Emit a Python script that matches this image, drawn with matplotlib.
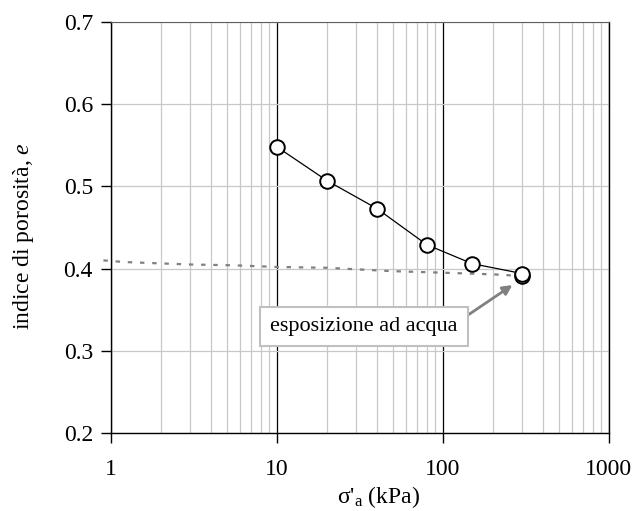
import matplotlib
matplotlib.use("Agg")
import matplotlib.pyplot as plt
from matplotlib.ticker import LogLocator, FixedLocator, NullFormatter

plt.rcParams['font.family'] = ['Liberation Serif', 'DejaVu Serif']
plt.rcParams['mathtext.fontset'] = 'custom'
plt.rcParams['mathtext.rm'] = 'Liberation Serif'
plt.rcParams['mathtext.it'] = 'Liberation Serif:italic'

# curva di carico (edometro)
sigma_load = [10, 20, 40, 80, 150, 300]
e_load = [0.548, 0.507, 0.473, 0.429, 0.406, 0.394]

# curva dopo esposizione ad acqua (tratteggiata)
sigma_wet = [0.9, 1.2, 3, 5.5, 10, 20, 48, 100, 200, 300]
e_wet = [0.410, 0.408, 0.405, 0.404, 0.402, 0.401, 0.397, 0.395, 0.393, 0.391]

x_ticks = [1, 10, 100, 1000]
x_tick_labels = ['1', '10', '100', '1000']
y_ticks = [0.2, 0.3, 0.4, 0.5, 0.6, 0.7]

fig = plt.figure(figsize=(6.35, 5.11), dpi=100)
ax = fig.add_axes([0.1748, 0.1526, 0.7842, 0.8044])

ax.set_xscale('log')
ax.set_xlim(1, 1000)
ax.set_ylim(0.2, 0.7)

# griglia
ax.xaxis.set_minor_locator(LogLocator(base=10, subs=range(2, 10)))
ax.xaxis.set_minor_formatter(NullFormatter())
ax.grid(True, which='minor', axis='x', color='#c8c8c8', lw=0.9)
ax.grid(True, which='major', axis='x', color='black', lw=0.9)
ax.grid(True, which='major', axis='y', color='#c8c8c8', lw=0.9)
ax.set_axisbelow(True)

ax.plot(sigma_wet, e_wet, color='#808080', lw=1.6, ls=(0, (2, 3.5)),
        zorder=3, clip_on=False)
ax.plot(sigma_load, e_load, color='black', lw=0.9, marker='o', ms=10.5,
        mfc='white', mec='black', mew=1.4, zorder=4)
ax.plot(sigma_wet[-1:], e_wet[-1:], ls='none', marker='o', ms=10.5,
        mfc='white', mec='black', mew=1.4, zorder=3.5)

ax.annotate('esposizione ad acqua', xy=(262, 0.380), xytext=(33.4, 0.329),
            fontsize=16, ha='center', va='center',
            bbox=dict(boxstyle='square,pad=0.45', fc='white', ec='#c0c0c0', lw=1.5),
            arrowprops=dict(arrowstyle='-|>', color='#808080', lw=2,
                            mutation_scale=14, relpos=(1, 0.76), shrinkA=0, shrinkB=0),
            zorder=5)

ax.xaxis.set_major_locator(FixedLocator(x_ticks))
ax.set_xticklabels(x_tick_labels)
ax.set_yticks(y_ticks)
ax.set_yticklabels(['%.1f' % v for v in y_ticks])
ax.tick_params(axis='both', which='major', direction='out', length=7,
               width=1, labelsize=17, colors='black')
ax.tick_params(axis='x', which='major', pad=12)
ax.tick_params(axis='y', which='major', pad=6)
ax.tick_params(which='minor', length=0)

for s in ['left', 'bottom', 'right']:
    ax.spines[s].set_color('black')
    ax.spines[s].set_linewidth(1)
ax.spines['top'].set_color('#606060')

ax.set_xlabel("σ'$_\\mathrm{a}$ (kPa)", fontsize=17)
ax.xaxis.set_label_coords(0.538, -0.125)
ax.set_ylabel('indice di porosità, $e$', fontsize=17)
ax.yaxis.set_label_coords(-0.15, 0.479)

fig.savefig('out.png', dpi=100)
